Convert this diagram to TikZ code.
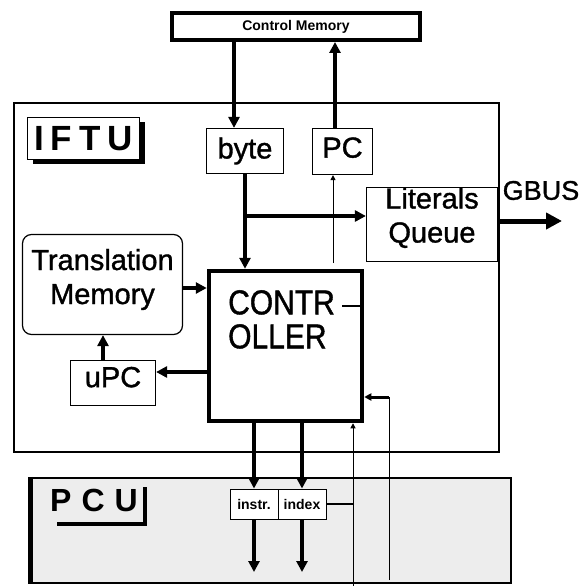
\documentclass[tikz,border=0pt]{standalone}
\usepackage{fontspec}
\setmainfont{Liberation Sans}
\newfontfamily\boxfont[FakeBold=1.2]{Liberation Sans}
\usetikzlibrary{arrows.meta,shadows}

\begin{document}
\begin{tikzpicture}[x=1pt,y=-1pt,
  box/.style={draw,line width=1.2pt,inner sep=0pt,fill=white,align=center,font=\boxfont\fontsize{29}{34}\selectfont},
  heavybox/.style={draw,line width=4pt,inner sep=0pt,fill=white},
  tag/.style={font=\fontsize{14}{16}\selectfont\bfseries},
  bus/.style={line width=3.6pt,-{Triangle[length=11pt,width=11pt]}},
  sig/.style={line width=1pt},
  sigarrow/.style={line width=1pt,-{Triangle[length=5pt,width=5pt]}}]
\useasboundingbox (0,0) rectangle (584,586);
\node[draw,line width=1.3pt,minimum width=485pt,minimum height=349pt] (iftu) at (256.5,277.5) {};
\node[draw,line width=2.5pt,fill=black!7,minimum width=479pt,minimum height=105pt] (pcu) at (271.5,530.5) {};
\draw[line width=5pt] (pcu.north west) -- (pcu.south west);
\node[draw,line width=1.5pt,fill=white,minimum width=112pt,minimum height=42pt,inner sep=0pt,
  font=\fontsize{35}{35}\selectfont\bfseries,
  drop shadow={shadow xshift=5pt,shadow yshift=-4pt,fill=black,opacity=1}] (iftulbl) at (83.5,138.5)
  {I\hspace{7pt}F\hspace{7pt}T\hspace{7pt}U};
\node[inner sep=0pt,font=\fontsize{32}{32}\selectfont\bfseries] (pculbl) at (94,500.5) {P\hspace{10pt}C\hspace{10pt}U};
\draw[line width=4pt] ([xshift=7pt,yshift=-12pt]pculbl.south west) -- ([xshift=7pt,yshift=-12pt]pculbl.south east)
  -- ([xshift=7pt,yshift=2pt]pculbl.north east);
\node[heavybox,tag,minimum width=248pt,minimum height=27pt] (cm) at (296,26.5) {Control Memory};
\node[box,minimum width=77pt,minimum height=45pt] (byte) at (245,151) {byte};
\node[box,minimum width=60pt,minimum height=46pt,text depth=8pt] (pc) at (342.5,151.5) {PC};
\node[box,minimum width=131pt,minimum height=74pt,text depth=19pt] (queue) at (432,224.5) {Literals\\Queue};
\node[box,rounded corners=9pt,minimum width=160pt,minimum height=100pt,text depth=16pt] (tm) at (102.5,284.5) {Translation\\Memory};
\node[box,minimum width=85pt,minimum height=45pt,text depth=12pt] (upc) at (113,383) {uPC};
\node[heavybox,line width=4.5pt,minimum width=153pt,minimum height=150pt] (ctrl) at (285.5,346) {};
\node[anchor=north west,inner sep=0pt,align=left,font=\boxfont\fontsize{30}{34}\selectfont] (ctrllbl) at (228,290)
  {\scalebox{1}[1.15]{CONTR}\\\scalebox{1}[1.15]{OLLER}};
\node[box,tag,line width=1pt,minimum width=48pt,minimum height=30pt] (instr) at (254,504) {instr.};
\node[box,tag,line width=1pt,minimum width=48pt,minimum height=30pt] (index) at (302,504) {index};
\node[inner sep=0pt,font=\boxfont\fontsize{27}{27}\selectfont] (gbus) at (541,190.5) {GBUS};
\coordinate (ctrltap) at (342,306);
\coordinate (qin) at ([yshift=8.5pt]queue.west);
\coordinate (gbusend) at (562,221);
\coordinate (upcin) at ([yshift=11pt]upc.east);
\coordinate (pcfb) at (333,263);
\coordinate (pcuout) at (0,572);
\coordinate (fbA) at (353,586);
\coordinate (fbB) at (389,580);
\coordinate (fbBtop) at (389,397);
\draw[bus] ([xshift=-11pt]byte.north |- cm.south) -- ([xshift=-11pt]byte.north);
\draw[bus] ([xshift=-7.5pt]pc.north) -- ([xshift=-7.5pt]pc.north |- cm.south);
\draw[bus] (byte.south) -- (byte.south |- ctrl.north);
\draw[bus] (byte.south |- qin) -- (qin);
\draw[sigarrow] (pcfb) -- (pcfb |- pc.south);
\draw[bus,line width=5pt,-{Triangle[length=16pt,width=16pt]}] (queue.east |- gbusend) -- (gbusend);
\draw[bus] ([yshift=-3.5pt]tm.east) -- ([yshift=-3.5pt]tm.east -| ctrl.west);
\draw[bus] ([xshift=-10pt]upc.north) -- ([xshift=-10pt]upc.north |- tm.south);
\draw[bus] (upcin -| ctrl.west) -- (upcin);
\draw[sig,line width=1.5pt] (ctrltap) -- (ctrltap -| ctrl.east);
\draw[bus] (instr.north |- ctrl.south) -- (instr.north);
\draw[bus] (index.north |- ctrl.south) -- (index.north);
\draw[bus] (instr.south) -- (instr.south |- pcuout);
\draw[bus] (index.south) -- (index.south |- pcuout);
\draw[sigarrow] (fbA) -- (fbA |- ctrl.south);
\draw[line width=2.5pt] (index.east) -- (index.east -| fbA);
\draw[sig] (fbB) -- (fbBtop);
\draw[line width=3pt,-{Triangle[length=7pt,width=7pt]}] (fbBtop) -- (fbBtop -| ctrl.east);
\end{tikzpicture}
\end{document}
